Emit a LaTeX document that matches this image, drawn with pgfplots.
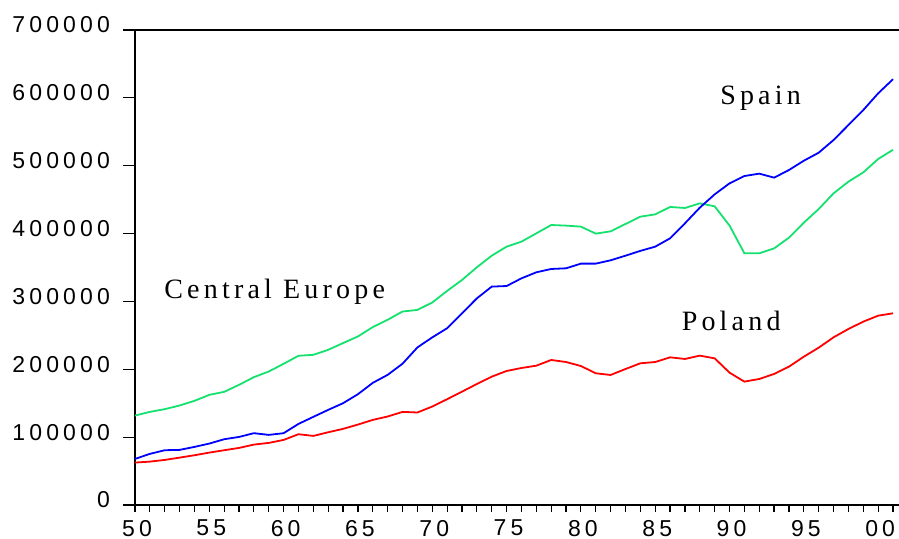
\documentclass[border=0pt]{standalone}
\usepackage{fontspec}
\usepackage{pgfplots}
\usepackage{pgfplotstable}
\pgfplotsset{compat=1.18}
\setmainfont{Liberation Serif}
\newfontfamily\tickfont{Liberation Sans}[LetterSpace=18]
\newfontfamily\labfont{Liberation Serif}[LetterSpace=15]
\definecolor{ceGreen}{RGB}{20,225,110}
\pgfplotstableread{
year spain central poland
1950 67900 131800 62500
1951 75300 137200 63900
1952 80700 141200 66400
1953 81200 146600 69800
1954 85600 153500 73300
1955 90500 162300 77200
1956 96900 166700 80700
1957 100300 177100 84100
1958 105800 188400 89000
1959 103300 196700 91500
1960 105800 208100 95900
1961 119500 219900 104300
1962 129900 221300 101800
1963 140200 228700 107200
1964 150000 238600 112200
1965 163300 248400 118500
1966 180000 262200 125400
1967 191800 273000 130400
1968 208200 285100 137200
1969 232200 287500 136300
1970 247000 298400 145100
1971 260500 315500 155900
1972 282400 331600 167000
1973 304500 350300 178300
1974 321800 367400 189100
1975 322700 380700 197500
1976 334000 388100 201900
1977 342900 400300 205300
1978 347800 412600 213700
1979 348800 411700 210700
1980 355700 410200 204800
1981 355700 399900 194100
1982 360600 403300 191600
1983 367400 414100 200400
1984 374500 424900 208800
1985 380700 428300 210700
1986 393000 439200 217600
1987 415100 437700 215200
1988 438200 444500 220100
1989 457800 440100 216100
1990 474000 411700 195000
1991 484800 370900 181800
1992 488300 370900 185700
1993 482400 378200 193100
1994 493700 394000 203900
1995 507400 416100 218600
1996 519200 436200 231900
1997 537900 459300 247100
1998 560000 476500 259400
1999 582100 490200 270200
2000 606700 509900 279000
2001 627500 523500 282500
}\gdp
\begin{document}
\begin{tikzpicture}
\begin{axis}[
  scale only axis, width=382pt, height=237.5pt,
  xmin=1950, xmax=2001.4, ymin=0, ymax=700000,
  axis x line*=bottom, axis y line*=left,
  axis line style={-, line width=1.2pt, black},
  tick align=outside,
  major tick length=6pt, minor tick length=3.5pt,
  xtick={1950,1955,...,2000},
  xticklabels={50,55,60,65,70,75,80,85,90,95,00},
  minor xtick={1950,...,2001},
  ytick={0,100000,200000,300000,400000,500000,600000,700000},
  yticklabels={0,100000,200000,300000,400000,500000,600000,700000},
  scaled y ticks=false,
  tick style={line width=0.6pt, black},
  major x tick style={draw=none},
  /pgf/number format/assume math mode=true,
  ticklabel style={font=\fontsize{11.5}{13}\selectfont\tickfont, text=black},
  yticklabel style={yshift=2.5pt, xshift=-3pt},
  xticklabel style={yshift=2pt, xshift=1pt},
  clip=false,
]
\addplot[ceGreen, line width=0.9pt] table[x=year, y=central]{\gdp};
\addplot[blue, line width=0.9pt] table[x=year, y=spain]{\gdp};
\addplot[red, line width=0.9pt] table[x=year, y=poland]{\gdp};
\draw[line width=1.2pt] (rel axis cs:0,1) -- (rel axis cs:1,1);
\coordinate (sw) at (rel axis cs:0,0);
\coordinate (ne) at (rel axis cs:1,1);
\node[font=\fontsize{14}{16}\selectfont\labfont, anchor=base west, inner sep=0pt] at (axis cs:1951.95,303600) {Central Europe};
\node[font=\fontsize{14}{16}\selectfont\labfont, anchor=base west, inner sep=0pt] at (axis cs:1989.35,590900) {Spain};
\node[font=\fontsize{14}{16}\selectfont\labfont, anchor=base west, inner sep=0pt] at (axis cs:1986.76,256900) {Poland};
\end{axis}
\pgfresetboundingbox
\useasboundingbox ([shift={(-67.5pt,-17pt)}]sw) rectangle ([shift={(0pt,15pt)}]ne);
\end{tikzpicture}
\end{document}
